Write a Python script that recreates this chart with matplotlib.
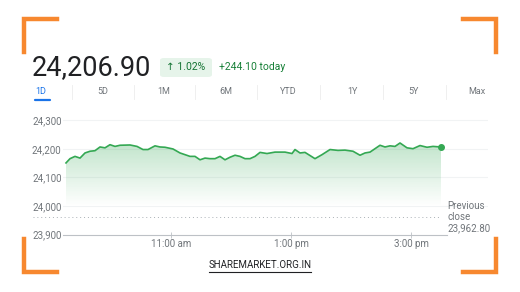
"""Intraday index chart (1D view) with header, range tabs and watermark."""

import matplotlib.pyplot as plt
import numpy as np
from matplotlib.lines import Line2D
from matplotlib.patches import FancyBboxPatch

W, H = 520, 292

# Data
price = 24206.90
change_pct = 1.02
change_abs = 244.10
prev_close = 23962.80

tabs = ["1D", "5D", "1M", "6M", "YTD", "1Y", "5Y", "Max"]
tab_x = [41, 103, 164, 226, 288, 352, 414, 477]

# minutes after 9:15 am
minutes = [0, 4, 9, 14, 19, 24, 29, 34, 39, 44, 49, 54, 64, 71, 77, 82, 89, 94,
           99, 107, 114, 119, 124, 129, 134, 139, 144, 149, 154, 159, 164, 169,
           174, 179, 184, 189, 194, 201, 209, 219, 226, 229, 234, 239, 249, 256,
           264, 272, 279, 287, 294, 299, 304, 314, 319, 324, 329, 334, 341, 347,
           354, 361, 367, 375]
values = [24151, 24166, 24174, 24168, 24186, 24192, 24194, 24207, 24204, 24215,
          24209, 24213, 24214, 24209, 24198, 24198, 24211, 24207, 24206, 24200,
          24186, 24180, 24174, 24174, 24162, 24168, 24166, 24166, 24174, 24162,
          24171, 24178, 24174, 24166, 24166, 24174, 24188, 24184, 24189, 24189,
          24184, 24198, 24186, 24188, 24166, 24180, 24198, 24195, 24196, 24192,
          24178, 24186, 24189, 24213, 24207, 24211, 24209, 24221, 24204, 24201,
          24212, 24206, 24209, 24206.9]

y_ticks = [23900, 24000, 24100, 24200, 24300]
x_ticks = [105, 225, 345]
x_labels = ["11:00 am", "1:00 pm", "3:00 pm"]

GREEN = "#34a853"
GRAY = "#70757a"
ORANGE = "#f7882f"
FONT = ["Roboto", "DejaVu Sans"]


def fx(x):
    return x / W


def fy(y):
    return 1 - y / H


fig = plt.figure(figsize=(W / 100, H / 100), dpi=100)
fig.patch.set_facecolor("white")

# axes placed in pixel units: x 63..488, y 106..234.5
left, right, top, bottom = 63, 488, 106.2, 234.5
ax = fig.add_axes([fx(left), fy(bottom), fx(right - left), (bottom - top) / H])
ax.set_xlim(-3, 422)
ax.set_ylim(23900, 24350)

x = np.array(minutes)
y = np.array(values)

# gradient fill under the line
poly = ax.fill_between(x, y, 23900, color="none", lw=0)
grad = np.linspace(0, 1, 256).reshape(-1, 1)
alpha = np.clip((grad * 450 + 23900 - 24000) / 220, 0, 1) * 0.30
rgba = np.zeros((256, 1, 4))
rgba[..., 0], rgba[..., 1], rgba[..., 2] = 0.20, 0.66, 0.33
rgba[..., 3] = alpha
img = ax.imshow(rgba, extent=[x.min(), x.max(), 23900, 24350], origin="lower",
                aspect="auto", zorder=1)
img.set_clip_path(poly.get_paths()[0], transform=ax.transData)

ax.plot(x, y, color=GREEN, lw=1.2, zorder=3)
ax.plot(x[-1], y[-1], "o", color=GREEN, ms=4, zorder=4)

for v in y_ticks[1:]:
    ax.axhline(v, color="#f1f3f4", lw=0.8, zorder=0)
ax.hlines(prev_close, -33, x.max(), colors="#aab0b6", linestyles=(0, (1, 3)),
          lw=0.7, clip_on=False, zorder=2)

for s in ["top", "right", "left"]:
    ax.spines[s].set_visible(False)
ax.spines["bottom"].set_color("#bdc1c6")
ax.spines["bottom"].set_linewidth(0.8)
ax.spines["bottom"].set_bounds(-3, 381)

ax.set_yticks(y_ticks)
ax.set_yticklabels([f"{v:,}" for v in y_ticks], fontsize=7, color=GRAY,
                   family=FONT)
ax.tick_params(axis="y", length=0, pad=1)
ax.set_xticks(x_ticks)
ax.set_xticklabels(x_labels, fontsize=7, color=GRAY, family=FONT)
ax.tick_params(axis="x", length=4, width=0.6, color="#bdc1c6", pad=1,
               direction="inout")

fig.text(fx(447), fy(217), f"Previous\nclose\n{prev_close:,.2f}", fontsize=7,
         color=GRAY, family=FONT, va="center", ha="left", linespacing=1.15)

# header
fig.text(fx(32), fy(68), f"{price:,.2f}", fontsize=19.5, color="#202124",
         family=FONT, va="center")
badge = FancyBboxPatch((fx(160), fy(77)), fx(52), 19 / H,
                       boxstyle="round,pad=0,rounding_size=0.008",
                       transform=fig.transFigure, fc="#e6f4ea", ec="none")
fig.patches.append(badge)
fig.text(fx(186), fy(67.5), f"↑ {change_pct:.2f}%", fontsize=7.5,
         color="#137333", family=FONT, ha="center", va="center")
fig.text(fx(219), fy(67.5), f"+{change_abs:.2f} today", fontsize=7.5,
         color="#188038", family=FONT, ha="left", va="center")

for i, (t, tx) in enumerate(zip(tabs, tab_x)):
    fig.text(fx(tx), fy(92), t, fontsize=6.5, family=FONT, ha="center",
             va="center", color="#1a73e8" if i == 0 else GRAY)
    if i < len(tabs) - 1:
        sx = (tx + tab_x[i + 1]) / 2
        fig.add_artist(Line2D([fx(sx)] * 2, [fy(85), fy(99)], color="#ececec",
                              lw=0.6))
fig.add_artist(Line2D([fx(35), fx(50)], [fy(100)] * 2, color="#1a73e8", lw=1.6,
                      solid_capstyle="round"))

# corner brackets
for cx, cy, dx, dy in [(24, 19, 1, 1), (496, 19, -1, 1), (24, 272, 1, -1),
                       (496, 272, -1, -1)]:
    fig.add_artist(Line2D([fx(cx + 33 * dx), fx(cx), fx(cx)],
                          [fy(cy), fy(cy), fy(cy + 33 * dy)], color=ORANGE,
                          lw=3.2, solid_joinstyle="miter"))

fig.text(fx(260), fy(265), "SHAREMARKET.ORG.IN", fontsize=7, color="#202124",
         family=FONT, ha="center", va="center")
fig.add_artist(Line2D([fx(209), fx(311)], [fy(272)] * 2, color="#202124",
                      lw=0.8))

fig.savefig("out.png", dpi=100)
